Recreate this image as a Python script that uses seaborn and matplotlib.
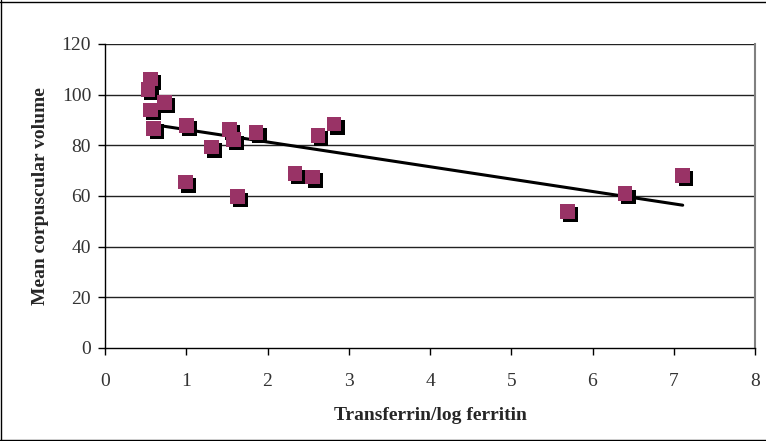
import numpy as np
import pandas as pd
import matplotlib
matplotlib.use('Agg')
import matplotlib.pyplot as plt
import matplotlib.patheffects as pe
from matplotlib.lines import Line2D
import seaborn as sns

# Values
transferrin_log_ferritin = [0.56, 0.53, 0.73, 0.56, 0.60, 1.00, 1.53, 1.58, 1.86, 1.31,
                            0.99, 1.63, 2.34, 2.55, 2.62, 2.82, 5.69, 6.40, 7.11]
mcv = [106.2, 102.1, 96.9, 94.0, 86.7, 87.9, 86.2, 82.2, 85.1, 79.3,
       65.5, 59.7, 68.8, 67.5, 84.0, 88.4, 53.9, 60.9, 68.2]
x_ticks = [0, 1, 2, 3, 4, 5, 6, 7, 8]
y_ticks = [0, 20, 40, 60, 80, 100, 120]

df = pd.DataFrame({'x': transferrin_log_ferritin, 'y': mcv})

sns.set_theme(style='white')
plt.rcParams['font.family'] = ['Liberation Serif', 'DejaVu Serif']

fig = plt.figure(figsize=(7.66, 4.41), dpi=100)
ax = fig.add_axes([105 / 766, 93 / 441, 650 / 766, 304 / 441])

for yv in y_ticks[1:]:
    ax.axhline(yv, color='#222222', lw=1.0, zorder=1)

# linear trendline (Excel style, from min to max x)
slope, intercept = np.polyfit(df['x'], df['y'], 1)
xs = np.array([df['x'].min(), df['x'].max()])
ax.plot(xs, slope * xs + intercept, color='black', lw=2.2, zorder=2)

sns.scatterplot(data=df, x='x', y='y', ax=ax, marker='s', s=112,
                color='#993366', edgecolor='none', linewidth=0, zorder=3)
ax.collections[-1].set_path_effects([
    pe.SimplePatchShadow(offset=(2.3, -2.3), shadow_rgbFace='black', alpha=1.0),
    pe.Normal()])

ax.set_xlim(0, 8)
ax.set_ylim(0, 120)
ax.set_xticks(x_ticks)
ax.set_yticks(y_ticks)
ax.tick_params(axis='both', direction='out', length=5, width=1, color='black',
               labelsize=14, labelcolor='#333333', left=True, bottom=True)
ax.tick_params(axis='y', pad=5)
ax.tick_params(axis='x', pad=13)
ax.set_xlabel('Transferrin/log ferritin', fontsize=14, fontweight='bold', labelpad=12)
ax.set_ylabel('Mean corpuscular volume', fontsize=14, fontweight='bold', labelpad=9)

for side in ['left', 'bottom']:
    ax.spines[side].set_color('black')
    ax.spines[side].set_linewidth(1.0)
ax.spines['top'].set_visible(False)
ax.spines['right'].set_color('#808080')
ax.spines['right'].set_linewidth(1.5)

# figure border (left, top, bottom)
fig.add_artist(Line2D([1.5 / 766, 1.5 / 766], [0, 1], color='black', lw=1, transform=fig.transFigure))
fig.add_artist(Line2D([0, 1], [439.5 / 441, 439.5 / 441], color='black', lw=1, transform=fig.transFigure))
fig.add_artist(Line2D([0, 1], [1.5 / 441, 1.5 / 441], color='black', lw=1, transform=fig.transFigure))

fig.savefig('out.png', dpi=100)
